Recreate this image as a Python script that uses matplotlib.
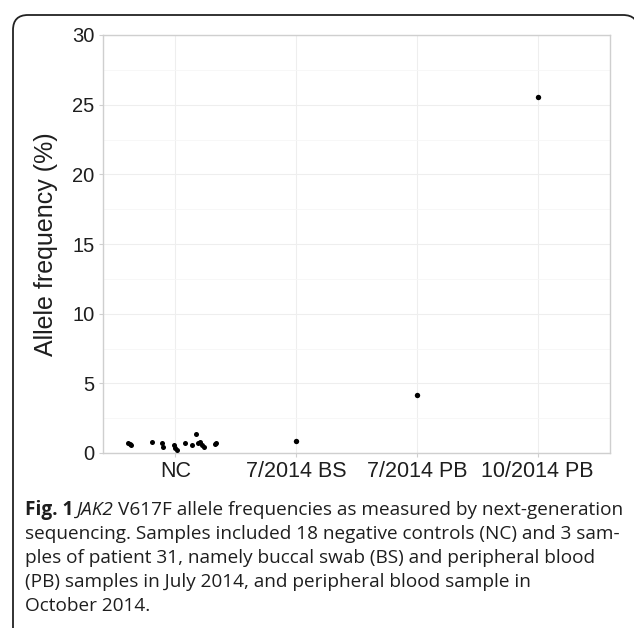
import matplotlib.pyplot as plt
from matplotlib.path import Path
from matplotlib.patches import PathPatch

categories = ["NC", "7/2014 BS", "7/2014 PB", "10/2014 PB"]

# negative controls: jitter offset and allele frequency (%)
nc_offset = [-0.39, -0.37, -0.38, -0.19, -0.11, -0.10, -0.01, 0.00, 0.01,
             0.08, 0.14, 0.17, 0.19, 0.20, 0.22, 0.24, 0.33, 0.34]
nc_freq = [0.72, 0.57, 0.65, 0.79, 0.72, 0.43, 0.57, 0.36, 0.25,
           0.72, 0.57, 1.36, 0.72, 0.79, 0.60, 0.43, 0.65, 0.72]

patient_freq = [0.86, 4.16, 25.55]

W, H = 634, 628
fig = plt.figure(figsize=(W / 100, H / 100), dpi=100)

# overlay in pixel units for the rounded frame (open at bottom, right off image)
bg = fig.add_axes([0, 0, 1, 1])
bg.set_xlim(0, W)
bg.set_ylim(H, 0)
bg.axis("off")
verts = [(13, 640), (13, 30), (13, 15), (28, 15), (623, 15),
         (638, 15), (638, 30), (638, 80)]
codes = [Path.MOVETO, Path.LINETO, Path.CURVE3, Path.CURVE3, Path.LINETO,
         Path.CURVE3, Path.CURVE3, Path.LINETO]
bg.add_patch(PathPatch(Path(verts, codes), fill=False,
                       edgecolor="#222222", linewidth=1.3))

ax = fig.add_axes([103 / W, 1 - 453 / H, 507 / W, 418 / H])
x_nc = [1 + o for o in nc_offset]
ax.scatter(x_nc, nc_freq, s=13, color="black", zorder=3, linewidths=0)
ax.scatter([2, 3, 4], patient_freq, s=15, color="black", zorder=3,
           linewidths=0)

ax.set_xlim(0.4, 4.6)
ax.set_ylim(0, 30)
ax.set_xticks([1, 2, 3, 4])
ax.set_xticklabels(categories, fontsize=15.5, color="#1e1e1e",
                   family="Liberation Sans")
ax.set_yticks([0, 5, 10, 15, 20, 25, 30])
ax.set_yticklabels(["0", "5", "10", "15", "20", "25", "30"], fontsize=14.5,
                   color="#1e1e1e", family="Liberation Sans")
ax.set_yticks([2.5, 7.5, 12.5, 17.5, 22.5, 27.5], minor=True)
ax.grid(True, which="major", color="#eeeeee", linewidth=0.8)
ax.grid(True, which="minor", axis="y", color="#f6f6f6", linewidth=0.6)
ax.set_axisbelow(True)
for s in ax.spines.values():
    s.set_color("#cfcfcf")
    s.set_linewidth(1.0)
ax.tick_params(which="major", length=3, color="#cfcfcf", pad=3)
ax.tick_params(which="minor", length=0)
ax.set_ylabel("Allele frequency (%)", fontsize=18, color="#1e1e1e",
              family="Liberation Sans", labelpad=10)

# caption
fs = 13.7
line_h = 24 / H
x0 = 25 / W
y0 = 1 - 515 / H
fig.canvas.draw()
r = fig.canvas.get_renderer()
t1 = fig.text(x0, y0, "Fig. 1", fontsize=fs, fontweight="bold",
              family="Open Sans", color="#1e1e1e", va="baseline")
bb = t1.get_window_extent(r)
x1 = (bb.x1 + 4) / W
t2 = fig.text(x1, y0, "JAK2", fontsize=fs, style="italic",
              family="Open Sans", color="#1e1e1e", va="baseline")
bb = t2.get_window_extent(r)
x2 = (bb.x1 + 4) / W
fig.text(x2, y0, "V617F allele frequencies as measured by next-generation",
         fontsize=fs, family="Open Sans", color="#1e1e1e", va="baseline")

rest = ["sequencing. Samples included 18 negative controls (NC) and 3 sam-",
        "ples of patient 31, namely buccal swab (BS) and peripheral blood",
        "(PB) samples in July 2014, and peripheral blood sample in",
        "October 2014."]
for i, line in enumerate(rest):
    fig.text(x0, y0 - (i + 1) * line_h, line, fontsize=fs,
             family="Open Sans", color="#1e1e1e", va="baseline")

fig.savefig("out.png", dpi=100)
